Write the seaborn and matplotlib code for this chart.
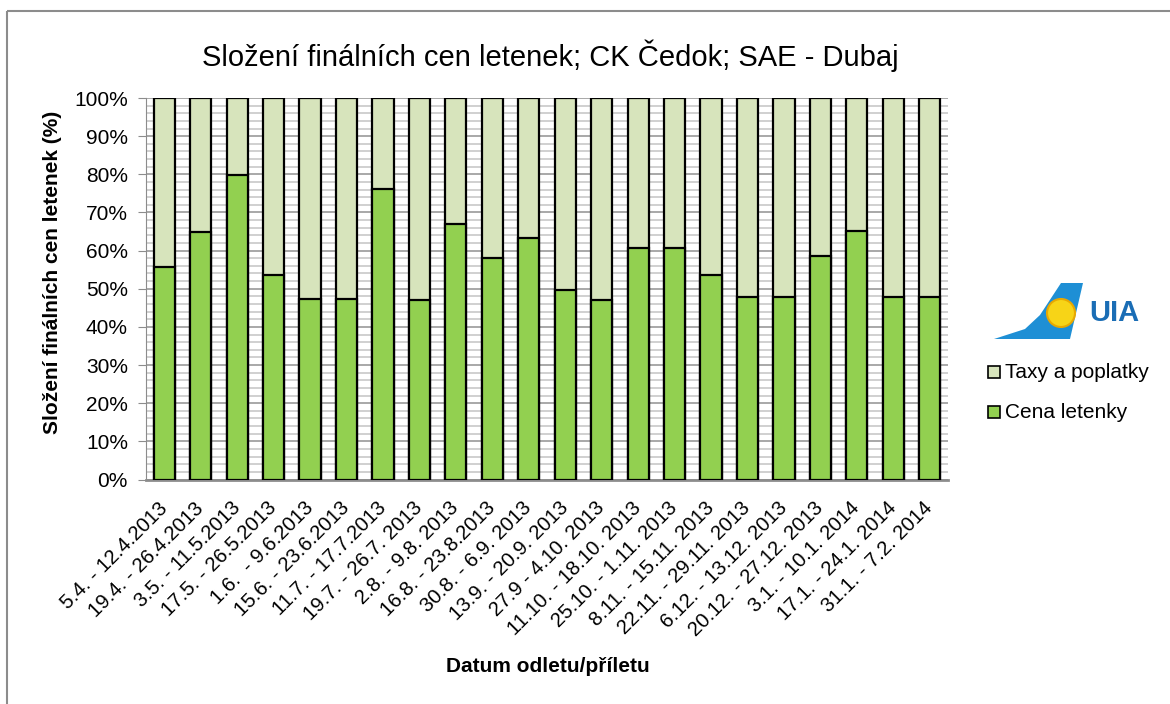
import numpy as np
import pandas as pd
import seaborn as sns
import matplotlib.pyplot as plt
from matplotlib.patches import Polygon, Circle, Rectangle
from matplotlib.ticker import MultipleLocator, PercentFormatter

# Data
terminy = ['5.4. - 12.4.2013', '19.4. - 26.4.2013', '3.5. - 11.5.2013', '17.5. - 26.5.2013',
           '1.6.  - 9.6.2013', '15.6. - 23.6.2013', '11.7. - 17.7.2013', '19.7. - 26.7. 2013',
           '2.8. - 9.8. 2013', '16.8. - 23.8.2013', '30.8. - 6.9. 2013', '13.9. - 20.9. 2013',
           '27.9 - 4.10. 2013', '11.10. - 18.10. 2013', '25.10. - 1.11. 2013', '8.11. - 15.11. 2013',
           '22.11. - 29.11. 2013', '6.12. - 13.12. 2013', '20.12. - 27.12. 2013', '3.1. - 10.1. 2014',
           '17.1. - 24.1. 2014', '31.1. - 7.2. 2014']
cena_letenky = [55.6, 65.0, 79.7, 53.5, 47.4, 47.4, 76.1, 47.1, 66.9, 58.0, 63.3,
                49.6, 47.1, 60.6, 60.6, 53.6, 47.9, 47.9, 58.6, 65.2, 47.9, 47.9]
taxy = [100 - c for c in cena_letenky]

df = pd.DataFrame({'termin': terminy, 'cena': cena_letenky, 'taxy': taxy})
df['celkem'] = df['cena'] + df['taxy']

sns.set_style('white')
plt.rcParams['font.family'] = ['Liberation Sans', 'DejaVu Sans']
plt.rcParams['text.color'] = 'black'
plt.rcParams['xtick.labelcolor'] = 'black'
plt.rcParams['ytick.labelcolor'] = 'black'

fig = plt.figure(figsize=(11.7, 7.04), dpi=100)
ax = fig.add_axes([146 / 1170, 1 - 479.5 / 704, (948 - 146) / 1170, (479.5 - 98) / 704])

# Stacked bars: total (taxes on top) then ticket price
sns.barplot(data=df, x='termin', y='celkem', color='#D7E4BC', edgecolor='black',
            linewidth=1.6, width=0.58, saturation=1, ax=ax, zorder=3)
sns.barplot(data=df, x='termin', y='cena', color='#92D050', edgecolor='black',
            linewidth=1.6, width=0.58, saturation=1, ax=ax, zorder=4)

ax.set_xlim(-0.5, len(terminy) - 0.5)
ax.set_ylim(0, 100)
ax.yaxis.set_major_locator(MultipleLocator(10))
ax.yaxis.set_minor_locator(MultipleLocator(2))
ax.yaxis.set_major_formatter(PercentFormatter(decimals=0))
ax.grid(axis='y', which='minor', color='#C8C8C8', linewidth=1.2, zorder=0)
ax.grid(axis='y', which='major', color='#9A9A9A', linewidth=1.2, zorder=0)
ax.set_axisbelow(True)

for s in ['top', 'right']:
    ax.spines[s].set_visible(False)
ax.spines['left'].set_color('#8C8C8C')
ax.spines['bottom'].set_color('#8C8C8C')
ax.spines['bottom'].set_linewidth(2)

ax.tick_params(axis='y', which='major', left=True, length=6, color='#8C8C8C',
               labelsize=15, pad=7, labelcolor='black')
ax.tick_params(axis='x', bottom=False, labelsize=14.6, pad=15, labelcolor='black')
ax.set_xticks(range(len(terminy)))
ax.set_xticklabels(terminy, rotation=45, ha='right', va='center', rotation_mode='anchor')

ax.set_xlabel('')
ax.set_ylabel('')
fig.text(548 / 1170, 1 - 667 / 704, 'Datum odletu/příletu', ha='center', va='center',
         fontsize=15, fontweight='bold', color='black')
fig.text(53 / 1170, 1 - 272 / 704, 'Složení finálních cen letenek (%)', ha='center',
         va='center', rotation=90, fontsize=15, fontweight='bold', color='black')
fig.text(550 / 1170, 1 - 56 / 704, 'Složení finálních cen letenek; CK Čedok; SAE - Dubaj',
         ha='center', va='center', fontsize=21, color='black')

# Overlay axes in pixel coordinates for frame, logo and legend
deco = fig.add_axes([0, 0, 1, 1], zorder=-1)
deco.set_xlim(0, 1170)
deco.set_ylim(704, 0)
deco.axis('off')
deco.add_patch(Rectangle((7, 11), 1200, 760, fill=False, edgecolor='#8C8C8C', linewidth=1.5))

top = fig.add_axes([0, 0, 1, 1], zorder=5)
top.set_xlim(0, 1170)
top.set_ylim(704, 0)
top.axis('off')
top.patch.set_alpha(0)
tail = Polygon([(994, 339), (1070, 339), (1083, 283), (1061, 283), (1040, 315),
                (1025, 329)], closed=True, facecolor='#1E8FD5', edgecolor='none')
top.add_patch(tail)
top.add_patch(Circle((1061, 313), 14, facecolor='#F7D417', edgecolor='#E8A800', linewidth=1.5))
top.text(1114, 313, 'UIA', ha='center', va='center', fontsize=21, fontweight='bold',
         color='#1A6DB5')

# Legend
for yy, col, lab in [(372, '#D7E4BC', 'Taxy a poplatky'), (412, '#92D050', 'Cena letenky')]:
    top.add_patch(Rectangle((988, yy - 6), 12, 12, facecolor=col, edgecolor='black',
                            linewidth=1.2))
    top.text(1005, yy, lab, ha='left', va='center', fontsize=15, color='black')

plt.savefig('out.png', dpi=100)
